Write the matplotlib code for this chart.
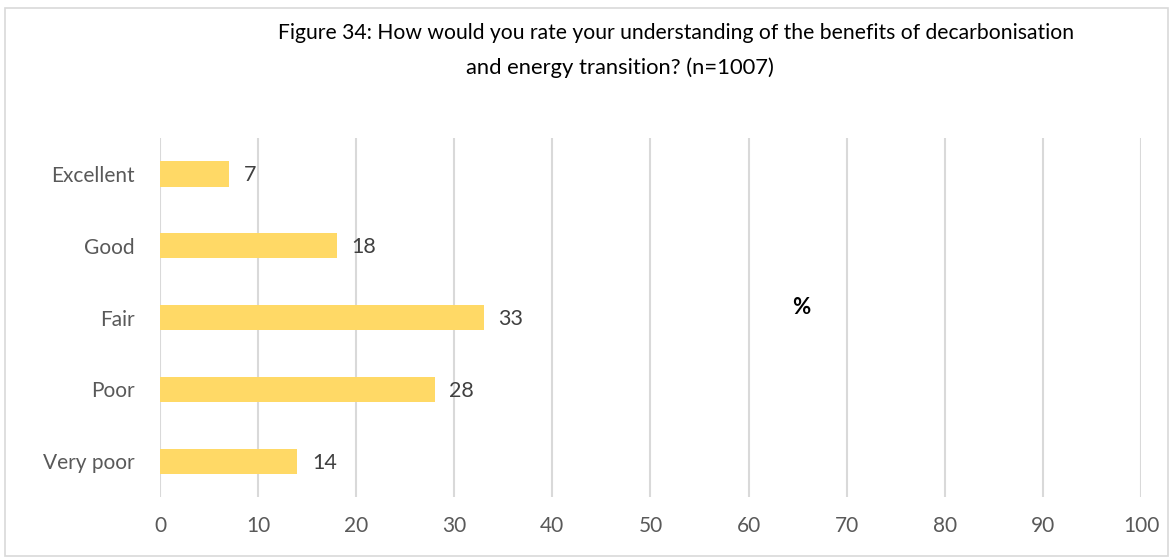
import matplotlib
matplotlib.use("Agg")
import matplotlib.pyplot as plt
from matplotlib.patches import Rectangle

categories = ["Excellent", "Good", "Fair", "Poor", "Very poor"]
values = [7, 18, 33, 28, 14]
xticks = [0, 10, 20, 30, 40, 50, 60, 70, 80, 90, 100]
title_lines = ["Figure 34: How would you rate your understanding of the benefits of decarbonisation",
               "and energy transition? (n=1007)"]

plt.rcParams["font.family"] = ["Lato", "DejaVu Sans"]

W, H = 1173, 557
fig = plt.figure(figsize=(W / 100, H / 100), dpi=100)
ax = fig.add_axes([0.1364, 0.1077, 0.8363, 0.6443])

ypos = list(range(len(categories)))[::-1]
ax.barh(ypos, values, height=0.35, color="#FFD966", zorder=3)
for y, v in zip(ypos, values):
    ax.text(v + 1.5, y - 0.02, f"{v}", va="center", ha="left", fontsize=15.5, color="#404040")

ax.set_xlim(0, 100)
ax.set_ylim(-0.5, 4.5)
ax.set_xticks(xticks)
ax.set_xticklabels([str(t) for t in xticks], fontsize=15, color="#595959")
ax.set_yticks(ypos)
ax.set_yticklabels(categories, fontsize=15, color="#595959")
ax.tick_params(axis="x", length=0, pad=14)
ax.tick_params(axis="y", length=0, pad=18)
ax.xaxis.grid(True, color="#D9D9D9", linewidth=1.5, zorder=0)
for s in ax.spines.values():
    s.set_visible(False)

fig.text(676 / W, 1 - 33 / H, title_lines[0], ha="center", va="center", fontsize=15.2, color="black")
fig.text(620 / W, 1 - 68 / H, title_lines[1], ha="center", va="center", fontsize=15.8, color="black")
fig.text(801 / W, 1 - 307 / H, "%", ha="center", va="center", fontsize=16, fontweight="bold", color="black")

fig.patches.append(Rectangle((5 / W, 0.002), 1 - 10 / W, 1 - 9 / H, transform=fig.transFigure,
                             fill=False, edgecolor="#D9D9D9", linewidth=1.2))

fig.savefig("out.png", dpi=100, facecolor="white")
